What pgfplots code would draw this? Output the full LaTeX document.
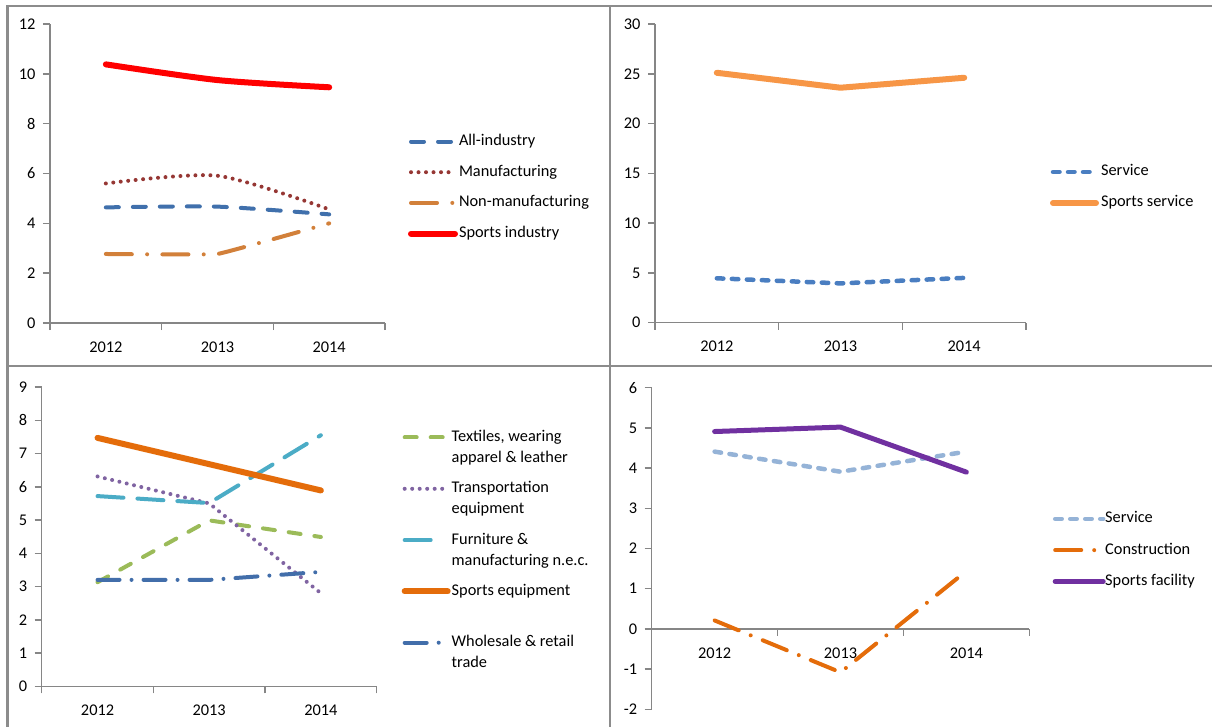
\documentclass[border=0pt]{standalone}
\usepackage{fontspec}
\setmainfont{Carlito}
\usepackage{pgfplots}
\pgfplotsset{compat=1.18}
\definecolor{axgray}{RGB}{134,134,134}
\definecolor{bordergray}{RGB}{140,140,140}
\definecolor{cAll}{RGB}{64,112,172}
\definecolor{cMan}{RGB}{150,55,52}
\definecolor{cNon}{RGB}{210,128,58}
\definecolor{cSpInd}{RGB}{255,0,0}
\definecolor{cServ}{RGB}{74,126,193}
\definecolor{cSpServ}{RGB}{247,150,70}
\definecolor{cTex}{RGB}{155,187,89}
\definecolor{cTra}{RGB}{128,100,162}
\definecolor{cFur}{RGB}{75,172,198}
\definecolor{cSpEq}{RGB}{228,108,10}
\definecolor{cWho}{RGB}{66,110,170}
\definecolor{cServB}{RGB}{149,179,215}
\definecolor{cCon}{RGB}{228,108,10}
\definecolor{cSpFac}{RGB}{112,48,160}
\newcommand\fs{\fontsize{16.4}{21}\selectfont}
\newcommand\two[2]{\smash{\begin{tabular}[t]{@{}l@{}}#1\\#2\end{tabular}}}
\pgfplotsset{
  legimg/.style={legend image code/.code={\draw[##1] (0bp,0bp) -- (#1,0bp);}},
  legimgF/.style={legend image code/.code={\draw[##1] (0bp,0bp) -- (28bp,0bp); \path (43bp,0bp);}},
  panel/.style={
    scale only axis,
    clip=false,
    axis x line=bottom, axis y line=left,
    axis line style={draw=axgray, line width=1.5bp, -},
    xmin=0.5, xmax=3.5,
    xtick={0.5,1.5,2.5,3.5}, xticklabels={,,,},
    extra x ticks={1,2,3}, extra x tick labels={2012,2013,2014},
    extra x tick style={major tick length=0pt, xticklabel style={yshift=-15bp}},
    tick align=outside,
    major tick length=7bp,
    tick style={draw=axgray, line width=1.5bp},
    tick label style={font=\fs, text=black},
    yticklabel style={xshift=-4bp},
    /pgf/number format/assume math mode=true,
    legend cell align=left,
    legend style={draw=none, fill=none, inner sep=0pt, outer sep=0pt, font=\fs,
      anchor=north west, row sep=16.7bp, column sep=1bp,
      nodes={inner sep=0pt, text height=11bp, text depth=3bp}},
    legimg=44bp,
  },
}
\begin{document}
\begin{tikzpicture}
\useasboundingbox (0,0) rectangle (1212bp,-727bp);
\fill[white] (0,0) rectangle (1212bp,-727bp);
\draw[bordergray, line width=2.2bp] (7.5bp,-727bp) -- (7.5bp,-6bp) -- (1212bp,-6bp);
\draw[bordergray, line width=2.2bp] (610bp,-6bp) -- (610bp,-727bp);
\draw[bordergray, line width=2.2bp] (7.5bp,-366bp) -- (1212bp,-366bp);

% Top-left
\begin{axis}[panel, at={(50bp,-323bp)}, anchor=south west, width=335bp, height=299bp,
  ymin=0, ymax=12, ytick={0,2,...,12},
  legend style={at={(1.0687,0.6304)}}]
\addplot[cAll, line width=4bp, line cap=round, dash pattern=on 13bp off 14bp, smooth, tension=0.4] coordinates {(1,4.64)(2,4.67)(3,4.36)};
\addlegendentry{All-industry}
\addplot[cMan, line width=4bp, line cap=round, dash pattern=on 0bp off 7.5bp, smooth, tension=0.45] coordinates {(1,5.6)(2,5.91)(3,4.56)};
\addlegendentry{Manufacturing}
\addplot[cNon, line width=4bp, line cap=round, dash pattern=on 26bp off 15.3bp on 0bp off 15.3bp, smooth, tension=0.12] coordinates {(1,2.77)(2,2.77)(3,4.0)};
\addlegendentry{Non-manufacturing}
\addplot[cSpInd, line width=6bp, line cap=round, smooth, tension=0.45] coordinates {(1,10.38)(2,9.75)(3,9.46)};
\addlegendentry{Sports industry}
\end{axis}

% Top-right
\begin{axis}[panel, at={(655bp,-322.7bp)}, anchor=south west, width=371bp, height=298.7bp,
  ymin=0, ymax=30, ytick={0,5,...,30},
  legend style={at={(1.0647,0.528)}, row sep=17bp, column sep=2bp}, legimg=43bp]
\addplot[cServ, line width=4.5bp, line cap=round, dash pattern=on 6.5bp off 8.5bp] coordinates {(1,4.46)(2,3.95)(3,4.5)};
\addlegendentry{Service}
\addplot[cSpServ, line width=6bp, line cap=round] coordinates {(1,25.1)(2,23.6)(3,24.6)};
\addlegendentry{Sports service}
\end{axis}

% Bottom-left
\begin{axis}[panel, at={(41.7bp,-686.3bp)}, anchor=south west, width=335bp, height=299.3bp,
  ymin=0, ymax=9, ytick={0,1,...,9},
  legend style={at={(1.0746,0.8547)}, row sep=37.3bp, column sep=1bp}, legimg=43bp]
\addplot[cTex, line width=4bp, line cap=round, dash pattern=on 12bp off 14bp] coordinates {(1,3.13)(2,4.99)(3,4.49)};
\addlegendentry{\two{Textiles, wearing}{apparel \& leather}}
\addplot[cTra, line width=4bp, line cap=round, dash pattern=on 0bp off 7.5bp] coordinates {(1,6.31)(2,5.5)(3,2.8)};
\addlegendentry{\two{Transportation}{equipment}}
\addplot[cFur, line width=4bp, line cap=round, dash pattern=on 26bp off 14bp, legimgF] coordinates {(1,5.72)(2,5.51)(3,7.55)};
\addlegendentry{\two{Furniture \&}{manufacturing n.e.c.}}
\addplot[cSpEq, line width=6bp, line cap=round] coordinates {(1,7.47)(2,6.68)(3,5.89)};
\addlegendentry{Sports equipment}
\addplot[cWho, line width=4bp, line cap=round, dash pattern=on 22bp off 12bp on 0bp off 12bp] coordinates {(1,3.2)(2,3.2)(3,3.44)};
\addlegendentry{\two{Wholesale \& retail}{trade}}
\end{axis}

% Bottom-right
\begin{axis}[panel, axis x line=middle, every inner x axis line/.append style={-},
  at={(651.7bp,-709.3bp)}, anchor=south west, width=377.6bp, height=321.6bp,
  ymin=-2, ymax=6, ytick={-2,-1,...,6}, tick align=outside,
  legend style={at={(1.062,0.614)}, row sep=17.3bp, column sep=-0.5bp}, legimg=48bp]
\addplot[cServB, line width=4.5bp, line cap=round, dash pattern=on 6.5bp off 8.5bp] coordinates {(1,4.41)(2,3.91)(3,4.41)};
\addlegendentry{Service}
\addplot[cCon, line width=4bp, line cap=round, dash pattern=on 26bp off 13bp on 0bp off 13bp] coordinates {(1,0.21)(2,-1.08)(3,1.44)};
\addlegendentry{Construction}
\addplot[cSpFac, line width=5bp, line cap=round] coordinates {(1,4.91)(2,5.02)(3,3.9)};
\addlegendentry{Sports facility}
\end{axis}
\end{tikzpicture}
\end{document}
